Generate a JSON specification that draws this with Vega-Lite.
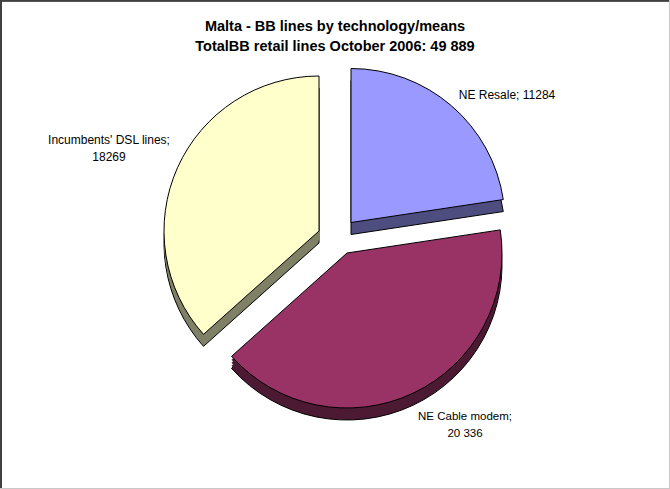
{
"$schema":"https://vega.github.io/schema/vega-lite/v6.json",
"width":670,"height":489,"padding":0,"autosize":"none","background":"white",
"title":{"text":["Malta - BB lines by technology/means","TotalBB retail lines October 2006: 49 889"],"font":"Liberation Sans","fontSize":14.5,"fontWeight":"bold","color":"black","lineHeight":20,"anchor":"middle","baseline":"alphabetic","offset":-67},
"config":{"view":{"stroke":null}},
"data":{"values":[
{"slice":"NE Resale","value":11284,"label":"NE Resale; 11284"},
{"slice":"NE Cable modem","value":20336,"label":"NE Cable modem;\n20 336"},
{"slice":"Incumbents' DSL lines","value":18269,"label":"Incumbents' DSL lines;\n18269"}
]},
"transform":[{"stack":"value","offset":"zero","groupby":[],"as":["v0","v1"]}],
"encoding":{
"theta":{"field":"v0","type":"quantitative","scale":{"domain":[0,49889]}},
"theta2":{"field":"v1"}
},
"layer":[
{"transform":[{"filter":"datum.slice==='NE Resale'"}],"mark":{"type":"arc","radius":154,"xOffset":16,"yOffset":-10,"fill":"#4D4D80","stroke":"black","strokeWidth":1}},
{"transform":[{"filter":"datum.slice==='NE Resale'"}],"mark":{"type":"arc","radius":154,"xOffset":16,"yOffset":-22,"fill":"#9999FF","stroke":"black","strokeWidth":1}},
{"transform":[{"filter":"datum.slice==='NE Cable modem'"}],"mark":{"type":"arc","radius":155,"xOffset":12,"yOffset":20.5,"fill":"#4D1A33","stroke":"black","strokeWidth":1}},
{"transform":[{"filter":"datum.slice==='NE Cable modem'"}],"mark":{"type":"arc","radius":155,"xOffset":12,"yOffset":18,"fill":"#4D1A33"}},
{"transform":[{"filter":"datum.slice==='NE Cable modem'"}],"mark":{"type":"arc","radius":155,"xOffset":12,"yOffset":15,"fill":"#4D1A33"}},
{"transform":[{"filter":"datum.slice==='NE Cable modem'"}],"mark":{"type":"arc","radius":155,"xOffset":12,"yOffset":12,"fill":"#4D1A33"}},
{"transform":[{"filter":"datum.slice==='NE Cable modem'"}],"mark":{"type":"arc","radius":155,"xOffset":12,"yOffset":8.5,"fill":"#993366","stroke":"black","strokeWidth":1}},
{"transform":[{"filter":"datum.slice==='Incumbents\\' DSL lines'"}],"mark":{"type":"arc","radius":155,"xOffset":-16,"yOffset":-1.5,"fill":"#808066","stroke":"black","strokeWidth":1}},
{"transform":[{"filter":"datum.slice==='Incumbents\\' DSL lines'"}],"mark":{"type":"arc","radius":155,"xOffset":-16,"yOffset":-4.5,"fill":"#808066"}},
{"transform":[{"filter":"datum.slice==='Incumbents\\' DSL lines'"}],"mark":{"type":"arc","radius":155,"xOffset":-16,"yOffset":-7.5,"fill":"#808066"}},
{"transform":[{"filter":"datum.slice==='Incumbents\\' DSL lines'"}],"mark":{"type":"arc","radius":155,"xOffset":-16,"yOffset":-10.5,"fill":"#808066"}},
{"transform":[{"filter":"datum.slice==='Incumbents\\' DSL lines'"}],"mark":{"type":"arc","radius":155,"xOffset":-16,"yOffset":-13.5,"fill":"#FFFFCC","stroke":"black","strokeWidth":1}},
{"transform":[{"filter":"datum.slice==='NE Resale'"}],"mark":{"type":"text","font":"Liberation Sans","fontSize":12,"color":"black","lineBreak":"\n","lineHeight":17,"align":"center","baseline":"middle","dx":172,"dy":-150},"encoding":{"theta":{"value":null},"theta2":{"value":null},"text":{"field":"label"}}},
{"transform":[{"filter":"datum.slice==='NE Cable modem'"}],"mark":{"type":"text","font":"Liberation Sans","fontSize":11.5,"color":"black","lineBreak":"\n","lineHeight":17,"align":"center","baseline":"middle","dx":130,"dy":172},"encoding":{"theta":{"value":null},"theta2":{"value":null},"text":{"field":"label"}}},
{"transform":[{"filter":"datum.slice==='Incumbents\\' DSL lines'"}],"mark":{"type":"text","font":"Liberation Sans","fontSize":12,"color":"black","lineBreak":"\n","lineHeight":17,"align":"center","baseline":"middle","dx":-226,"dy":-105},"encoding":{"theta":{"value":null},"theta2":{"value":null},"text":{"field":"label"}}},
{"mark":{"type":"rule","color":"#404040","strokeWidth":4},"encoding":{"theta":{"value":null},"theta2":{"value":null},"x":{"datum":0,"type":"quantitative","scale":{"domain":[0,1]},"axis":null}}},
{"mark":{"type":"rule","color":"#404040","strokeWidth":3},"encoding":{"theta":{"value":null},"theta2":{"value":null},"y":{"datum":1,"type":"quantitative","scale":{"domain":[0,1]},"axis":null}}},
{"mark":{"type":"rule","color":"#C8C8C8","strokeWidth":2},"encoding":{"theta":{"value":null},"theta2":{"value":null},"x":{"datum":1,"type":"quantitative","scale":{"domain":[0,1]},"axis":null}}},
{"mark":{"type":"rule","color":"#C8C8C8","strokeWidth":2},"encoding":{"theta":{"value":null},"theta2":{"value":null},"y":{"datum":0,"type":"quantitative","scale":{"domain":[0,1]},"axis":null}}}
]
}
